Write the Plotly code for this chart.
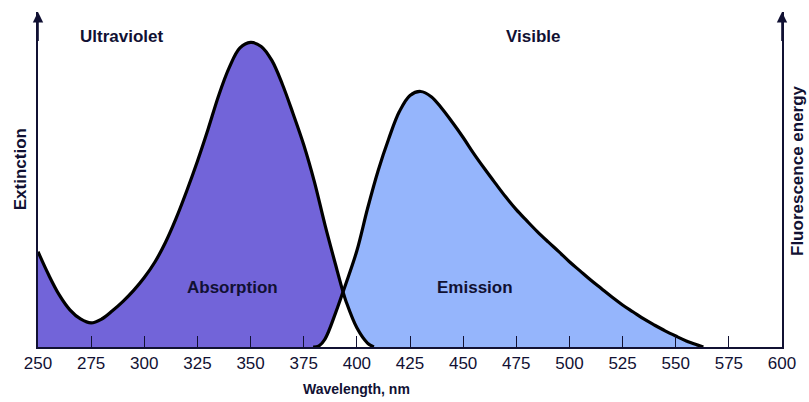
import plotly.graph_objects as go

# Absorption curve (wavelength nm, relative extinction; peak = 100)
abs_nm = [250, 255, 260, 265, 270, 275, 280, 285, 290, 295, 300, 305, 310, 315,
          320, 325, 330, 335, 340, 345, 350, 355, 360, 365, 370, 375, 380, 385,
          390, 393.5, 395, 400, 405, 408]
abs_val = [31.3, 23.7, 17.1, 12.2, 9.2, 7.9, 9.2, 11.9, 15.0, 18.6, 22.8, 27.9, 34.4, 42.3,
           51.3, 61.0, 71.5, 82.6, 91.8, 98.2, 100.0, 98.7, 94.1, 86.2, 76.6, 66.4, 54.3, 40.1,
           27.0, 18.1, 14.8, 6.3, 1.3, 0.0]

# Emission curve (wavelength nm, relative fluorescence energy)
em_nm = [379.4, 382, 385, 390, 393.5, 395, 400, 405, 410, 415, 420, 425, 430, 435,
         440, 445, 450, 455, 460, 465, 470, 475, 480, 485, 490, 495, 500, 505,
         510, 515, 520, 525, 530, 535, 540, 545, 550, 555, 560, 563]
em_val = [0.0, 0.3, 2.6, 11.2, 18.1, 21.1, 31.6, 45.4, 57.9, 68.4, 77.3, 82.6, 83.9, 82.2,
          78.3, 73.7, 68.8, 63.5, 58.6, 53.9, 49.3, 45.1, 41.4, 37.8, 34.5, 31.3, 28.0, 25.0,
          22.0, 19.2, 16.4, 13.8, 11.5, 9.2, 7.2, 5.3, 3.6, 2.0, 0.7, 0.0]

tick_vals = [250, 275, 300, 325, 350, 375, 400, 425, 450, 475, 500, 525, 550, 575, 600]
tick_text = [str(v) for v in tick_vals]

region_labels = ["Ultraviolet", "Visible"]
curve_labels = ["Absorption", "Emission"]
axis_titles = ["Wavelength, nm", "Extinction", "Fluorescence energy"]

PURPLE = "#7264d9"
BLUE = "#95b5fc"
INK = "#111133"
FONT = "Liberation Sans"
CROSS = 393.5  # wavelength where the two curves cross

# overlap region (under both curves): emission rising edge up to the crossing,
# then absorption falling edge after it
ov_x = [x for x in em_nm if x <= CROSS] + [x for x in abs_nm if x > CROSS]
ov_y = [y for x, y in zip(em_nm, em_val) if x <= CROSS] + \
       [y for x, y in zip(abs_nm, abs_val) if x > CROSS]

fig = go.Figure()
fig.add_trace(go.Scatter(x=abs_nm, y=abs_val, mode="lines", fill="tozeroy",
                         fillcolor=PURPLE, line=dict(width=0, shape="spline"),
                         hoverinfo="skip"))
fig.add_trace(go.Scatter(x=em_nm, y=em_val, mode="lines", fill="tozeroy",
                         fillcolor=BLUE, line=dict(width=0, shape="spline"),
                         hoverinfo="skip"))
fig.add_trace(go.Scatter(x=ov_x, y=ov_y, mode="lines", fill="tozeroy",
                         fillcolor="white", line=dict(width=0, shape="spline"),
                         hoverinfo="skip"))
fig.add_trace(go.Scatter(x=abs_nm, y=abs_val, mode="lines",
                         line=dict(color="black", width=3.2, shape="spline")))
fig.add_trace(go.Scatter(x=em_nm, y=em_val, mode="lines",
                         line=dict(color="black", width=3.2, shape="spline")))

fig.update_layout(
    width=809, height=402,
    margin=dict(l=38, r=27, t=12, b=55),
    plot_bgcolor="white", paper_bgcolor="white",
    showlegend=False,
    font=dict(family=FONT, color=INK),
    xaxis=dict(range=[250, 600], tickvals=tick_vals, ticktext=tick_text,
               ticks="inside", ticklen=11, tickwidth=1.3, tickcolor=INK,
               showline=True, linecolor=INK, linewidth=1.6, showgrid=False,
               zeroline=False, tickfont=dict(size=17, color=INK, family=FONT)),
    yaxis=dict(range=[0, 110], showticklabels=False, ticks="", showgrid=False,
               zeroline=False, showline=True, mirror=True, linecolor=INK, linewidth=1.6),
)

ann_font = dict(family=FONT, size=17, color=INK)
anns = []
anns.append(dict(x=289.5, y=102.1, xref="x", yref="y", text="<b>%s</b>" % region_labels[0],
                 showarrow=False, font=ann_font))
anns.append(dict(x=482.9, y=102.1, xref="x", yref="y", text="<b>%s</b>" % region_labels[1],
                 showarrow=False, font=ann_font))
anns.append(dict(x=341.3, y=19.7, xref="x", yref="y", text="<b>%s</b>" % curve_labels[0],
                 showarrow=False, font=ann_font))
anns.append(dict(x=455.6, y=19.4, xref="x", yref="y", text="<b>%s</b>" % curve_labels[1],
                 showarrow=False, font=ann_font))
anns.append(dict(x=400, y=-0.125, xref="x", yref="paper", text="<b>%s</b>" % axis_titles[0],
                 xanchor="center", yanchor="middle",
                 showarrow=False, font=dict(family=FONT, size=14, color=INK)))
anns.append(dict(x=-0.024, y=0.531, xref="paper", yref="paper", text="<b>%s</b>" % axis_titles[1],
                 xanchor="center", yanchor="middle",
                 textangle=-90, showarrow=False, font=ann_font))
anns.append(dict(x=1.02, y=0.528, xref="paper", yref="paper", text="<b>%s</b>" % axis_titles[2],
                 xanchor="center", yanchor="middle",
                 textangle=-90, showarrow=False, font=ann_font))
# axis arrowheads
for xv in (250, 600):
    anns.append(dict(x=xv, y=110, xref="x", yref="y", ax=xv, ay=100, axref="x", ayref="y",
                     showarrow=True, arrowhead=2, arrowsize=1.3, arrowwidth=1.6,
                     arrowcolor=INK, text=""))
fig.update_layout(annotations=anns)

fig.write_html("out.html")
